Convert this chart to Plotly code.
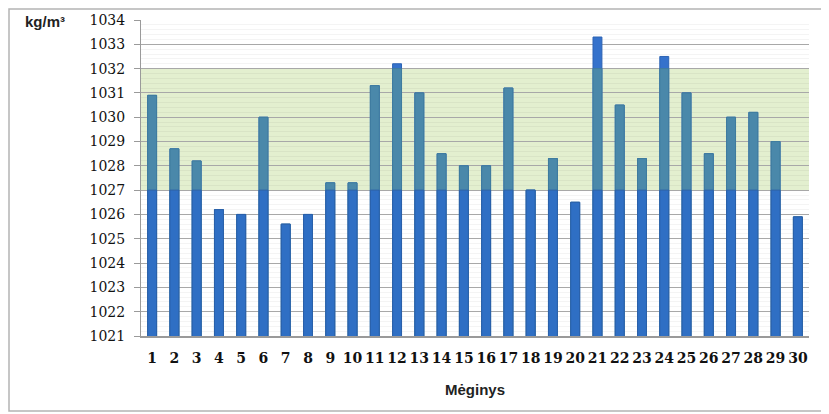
import plotly.graph_objects as go

samples = [str(i) for i in range(1, 31)]
density = [1030.9, 1028.7, 1028.2, 1026.2, 1026.0, 1030.0, 1025.6, 1026.0, 1027.3, 1027.3,
           1031.3, 1032.2, 1031.0, 1028.5, 1028.0, 1028.0, 1031.2, 1027.0, 1028.3, 1026.5,
           1033.3, 1030.5, 1028.3, 1032.5, 1031.0, 1028.5, 1030.0, 1030.2, 1029.0, 1025.9]
norm_low = 1027
norm_high = 1032
y_ticks = list(range(1021, 1035))

blue = "#2f6fc4"
teal = "#4a88aa"

fig = go.Figure()
fig.add_trace(go.Bar(x=samples, y=density, marker_color="#3572cc", width=0.4, hoverinfo="x+y",
                     marker_line=dict(color="#2c63b4", width=1)))
fig.add_trace(go.Bar(x=samples, y=[min(v, norm_high) for v in density], marker_color=teal,
                     width=0.4, hoverinfo="skip", marker_line=dict(color="#3f7c9e", width=1)))
fig.add_trace(go.Bar(x=samples, y=[min(v, norm_low) for v in density], marker_color=blue,
                     width=0.4, hoverinfo="skip", marker_line=dict(color="#2a60aa", width=1)))

fig.add_shape(type="rect", xref="paper", yref="y", x0=0, x1=1, y0=norm_low, y1=norm_high,
              fillcolor="#e3efcf", line_width=0, layer="below")
# outer frame
fig.add_shape(type="rect", xref="paper", yref="paper", x0=-0.1976, x1=1.0254, y0=-0.237, y1=1.0348,
              line=dict(color="#b4b4b4", width=1.5), fillcolor="rgba(0,0,0,0)")

fig.add_annotation(text="<b>kg/m³</b>", xref="paper", yref="paper", x=-0.176, y=0.994,
                   xanchor="left", yanchor="middle", showarrow=False,
                   font=dict(family="Liberation Sans", size=15, color="#222"))
fig.add_annotation(text="<b>Mėginys</b>", xref="paper", yref="paper", x=0.5, y=-0.168,
                   xanchor="center", yanchor="middle", showarrow=False,
                   font=dict(family="Liberation Sans", size=15, color="#222"))

fig.update_layout(
    width=821, height=406,
    margin=dict(l=133, r=20, t=12, b=78),
    barmode="overlay",
    showlegend=False,
    plot_bgcolor="white",
    paper_bgcolor="white",
    xaxis=dict(
        type="category", automargin=False,
        tickfont=dict(family="DejaVu Serif", size=14, color="#111"),
        showgrid=False, showline=True, linecolor="#9a9a9a", linewidth=1.5,
        ticks="", tickprefix="<b>", ticksuffix="</b>", ticklabelstandoff=8,
    ),
    yaxis=dict(
        range=[1021, 1034], automargin=False,
        tickvals=y_ticks,
        tickfont=dict(family="DejaVu Serif", size=14, color="#111"),
        tickprefix="<b>", ticksuffix="</b>", ticklabelstandoff=6,
        showgrid=True, gridcolor="#a8a8a8", gridwidth=1,
        showline=True, linecolor="#9a9a9a", linewidth=1,
        ticks="outside", ticklen=6, tickcolor="#9a9a9a",
        minor=dict(dtick=0.2, showgrid=True, gridcolor="rgba(0,0,0,0.045)", gridwidth=1),
        zeroline=False,
    ),
)

fig.write_html("out.html")
